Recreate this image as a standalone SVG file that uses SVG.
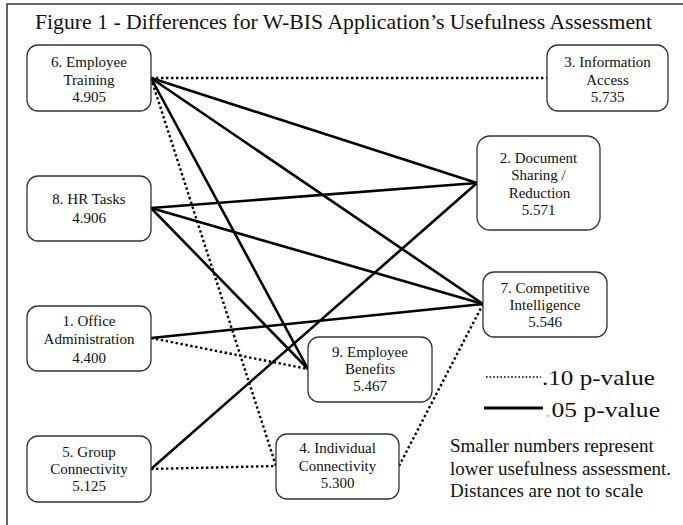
<svg xmlns="http://www.w3.org/2000/svg" width="683" height="525" viewBox="0 0 683 525">
<style>
text{font-family:"Liberation Serif","Times New Roman",serif;fill:#111}
.nt{font-size:15px;text-anchor:middle}
.box{fill:#fff;stroke:#333;stroke-width:1.3}
.solid{stroke:#000;stroke-width:2.6;fill:none}
.dot{stroke:#000;stroke-width:2.4;stroke-dasharray:2.4 2.6;fill:none}
</style>
<rect x="7" y="4" width="720" height="600" fill="#fff" stroke="#333" stroke-width="1.5"/>
<text x="35" y="29" font-size="21.7px" textLength="617" lengthAdjust="spacingAndGlyphs">Figure 1 - Differences for W-BIS Application’s Usefulness Assessment</text>
<g id="connectors">
<line class="dot" x1="151" y1="78" x2="547" y2="78"/>
<line class="dot" x1="151" y1="78" x2="276" y2="466"/>
<line class="dot" x1="151" y1="338" x2="308" y2="369"/>
<line class="dot" x1="151" y1="469" x2="276" y2="466"/>
<line class="dot" x1="399" y1="466" x2="483" y2="304"/>
<line class="solid" x1="151" y1="78" x2="477" y2="183"/>
<line class="solid" x1="151" y1="78" x2="483" y2="304"/>
<line class="solid" x1="151" y1="78" x2="308" y2="369"/>
<line class="solid" x1="151" y1="208" x2="477" y2="183"/>
<line class="solid" x1="151" y1="208" x2="483" y2="304"/>
<line class="solid" x1="151" y1="208" x2="308" y2="369"/>
<line class="solid" x1="151" y1="338" x2="483" y2="304"/>
<line class="solid" x1="151" y1="469" x2="477" y2="183"/>
</g>
<g id="n6"><rect class="box" x="27" y="45" width="124" height="66" rx="11"/>
<text class="nt" x="89" y="67">6. Employee</text><text class="nt" x="89" y="85">Training</text><text class="nt" x="89" y="102">4.905</text></g>
<g id="n8"><rect class="box" x="27" y="176" width="124" height="65" rx="11"/>
<text class="nt" x="89" y="204">8. HR Tasks</text><text class="nt" x="89" y="222.5">4.906</text></g>
<g id="n1"><rect class="box" x="27" y="306" width="124" height="65" rx="11"/>
<text class="nt" x="89" y="326">1. Office</text><text class="nt" x="89" y="344">Administration</text><text class="nt" x="89" y="362.5">4.400</text></g>
<g id="n5"><rect class="box" x="27" y="436" width="124" height="66" rx="11"/>
<text class="nt" x="89" y="456.5">5. Group</text><text class="nt" x="89" y="474">Connectivity</text><text class="nt" x="89" y="491">5.125</text></g>
<g id="n3"><rect class="box" x="547" y="45" width="121" height="66" rx="11"/>
<text class="nt" x="607.5" y="67">3. Information</text><text class="nt" x="607.5" y="85">Access</text><text class="nt" x="607.5" y="102">5.735</text></g>
<g id="n2"><rect class="box" x="477" y="136" width="123" height="94" rx="13"/>
<text class="nt" x="538.5" y="162.5">2. Document</text><text class="nt" x="538.5" y="180">Sharing /</text><text class="nt" x="539.5" y="197.5">Reduction</text><text class="nt" x="538.5" y="215">5.571</text></g>
<g id="n7"><rect class="box" x="483" y="272" width="124" height="65" rx="11"/>
<text class="nt" x="545" y="292.5">7. Competitive</text><text class="nt" x="545" y="310">Intelligence</text><text class="nt" x="545" y="327">5.546</text></g>
<g id="n9"><rect class="box" x="308" y="337" width="124" height="65" rx="11"/>
<text class="nt" x="370" y="356.5">9. Employee</text><text class="nt" x="370" y="374">Benefits</text><text class="nt" x="370" y="391">5.467</text></g>
<g id="n4"><rect class="box" x="276" y="434" width="123" height="65" rx="11"/>
<text class="nt" x="337.5" y="453">4. Individual</text><text class="nt" x="337.5" y="471">Connectivity</text><text class="nt" x="337.5" y="488">5.300</text></g>
<g id="legend">
<line x1="486" y1="377" x2="541" y2="377" stroke="#000" stroke-width="1.6" stroke-dasharray="1.6 2"/>
<text x="542" y="385" font-size="22px" textLength="113" lengthAdjust="spacingAndGlyphs">.10 p-value</text>
<line x1="484" y1="408" x2="543" y2="408" stroke="#000" stroke-width="3"/>
<text x="545" y="417" font-size="22px" textLength="115" lengthAdjust="spacingAndGlyphs"><tspan fill="#c4c8e0">.</tspan>05 p-value</text>
<text x="450" y="452" font-size="19px">Smaller numbers represent</text>
<text x="450" y="474.5" font-size="19px">lower usefulness assessment.</text>
<text x="450" y="497" font-size="19px">Distances are not to scale</text>
</g>
</svg>
